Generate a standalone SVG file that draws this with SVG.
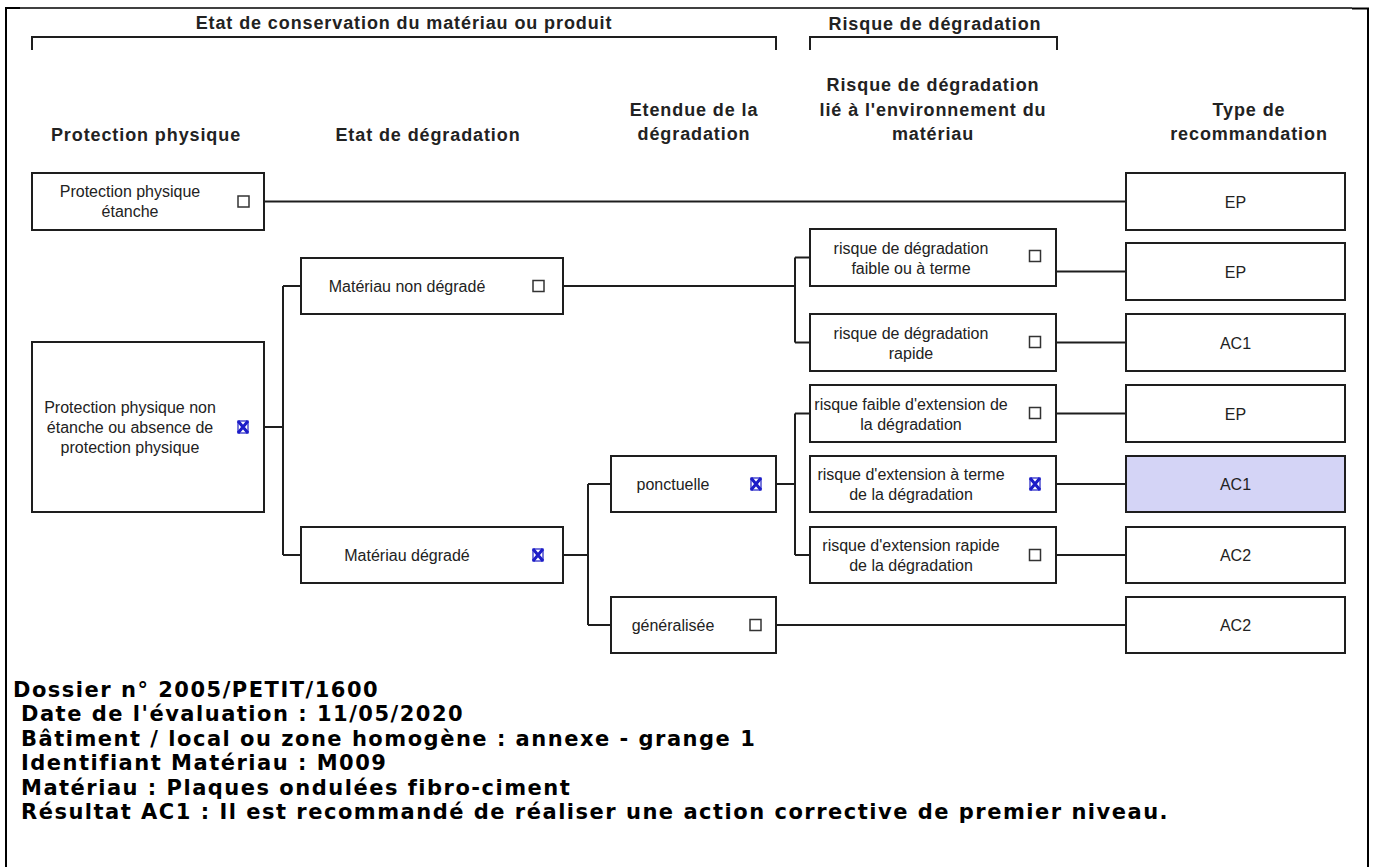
<svg xmlns="http://www.w3.org/2000/svg" xmlns:xlink="http://www.w3.org/1999/xlink" width="1375" height="867" viewBox="0 0 1375 867">
<style>
.box{fill:#fff;stroke:#1e1e1e;stroke-width:2}
.hl{fill:#d4d4f6}
.conn{fill:none;stroke:#1e1e1e;stroke-width:2}
.t{font-family:"Liberation Sans",Arial,sans-serif;font-size:16px;fill:#222;text-anchor:middle}
.h{font-family:"Liberation Sans",Arial,sans-serif;font-size:18px;font-weight:bold;letter-spacing:0.9px;fill:#222;text-anchor:middle}
.info{font-family:"DejaVu Sans",Verdana,sans-serif;font-size:21px;font-weight:bold;letter-spacing:1.5px;fill:#000}
.cb{fill:#fff;stroke:#333;stroke-width:1.5}
.xm{fill:none;stroke:#1c1cc8;stroke-width:3}
.xs{fill:none;stroke:#3030c8;stroke-width:1.3}
.frame{fill:none;stroke:#000;stroke-width:2}
</style>
<defs>
<rect id="cb" class="cb" x="-5.5" y="-5.5" width="11" height="11"/>
<g id="xm">
<rect class="xs" x="-5" y="-6" width="10" height="12"/>
<path class="xm" d="M-5,-6 L5,6 M5,-6 L-5,6"/>
</g>
</defs>
<rect width="1375" height="867" fill="#fff"/>
<g id="frame">
<path class="frame" d="M6,867 V8 H20"/>
<path d="M20,8 H1352" stroke="#000" stroke-width="1.3" fill="none"/>
<path class="frame" d="M1352,8.5 H1368 V867"/>
</g>
<g id="headers">
<text class="h" x="404" y="29">Etat de conservation du matériau ou produit</text>
<path class="conn" d="M32,50 V37 H776 V50"/>
<text class="h" x="935" y="30">Risque de dégradation</text>
<path class="conn" d="M810,50 V37 H1057 V50"/>
<text class="h" x="146" y="141">Protection physique</text>
<text class="h" x="428" y="141">Etat de dégradation</text>
<text class="h" x="694" y="115.5">Etendue de la</text>
<text class="h" x="694" y="140">dégradation</text>
<text class="h" x="933" y="91">Risque de dégradation</text>
<text class="h" x="933" y="115.5">lié à l'environnement du</text>
<text class="h" x="933" y="140">matériau</text>
<text class="h" x="1249" y="115.5">Type de</text>
<text class="h" x="1249" y="140">recommandation</text>
</g>
<g id="connectors">
<path class="conn" d="M264,201.5 H1126"/>
<path class="conn" d="M264,427 H283 M283,286 V555 M283,286 H301 M283,555 H301"/>
<path class="conn" d="M563,286 H795 M795,257.5 V342.5 M795,257.5 H810 M795,342.5 H810"/>
<path class="conn" d="M1056,271.5 H1126 M1056,342.5 H1126"/>
<path class="conn" d="M563,555 H588 M588,484 V625 M588,484 H611 M588,625 H611"/>
<path class="conn" d="M776,484 H795 M795,413.5 V555 M795,413.5 H810 M795,555 H810"/>
<path class="conn" d="M1056,413.5 H1126 M1056,484 H1126 M1056,555 H1126"/>
<path class="conn" d="M776,625 H1126"/>
</g>
<g id="n_protection_etanche">
<rect class="box" x="32" y="173" width="232" height="57"/>
<text class="t" x="130" y="197">Protection physique</text>
<text class="t" x="130" y="217">étanche</text>
<use xlink:href="#cb" x="243.5" y="201.5"/>
</g>
<g id="n_protection_non_etanche">
<rect class="box" x="32" y="342" width="232" height="170"/>
<text class="t" x="130" y="413">Protection physique non</text>
<text class="t" x="130" y="433">étanche ou absence de</text>
<text class="t" x="130" y="453">protection physique</text>
<use xlink:href="#xm" x="243" y="427"/>
</g>
<g id="n_materiau_non_degrade">
<rect class="box" x="301" y="258" width="262" height="56"/>
<text class="t" x="407" y="292">Matériau non dégradé</text>
<use xlink:href="#cb" x="538.5" y="286"/>
</g>
<g id="n_materiau_degrade">
<rect class="box" x="301" y="527" width="262" height="56"/>
<text class="t" x="407" y="561">Matériau dégradé</text>
<use xlink:href="#xm" x="538" y="555"/>
</g>
<g id="n_ponctuelle">
<rect class="box" x="611" y="456" width="165" height="56"/>
<text class="t" x="673" y="490">ponctuelle</text>
<use xlink:href="#xm" x="756" y="484"/>
</g>
<g id="n_generalisee">
<rect class="box" x="611" y="597" width="165" height="56"/>
<text class="t" x="673" y="631">généralisée</text>
<use xlink:href="#cb" x="755.5" y="625"/>
</g>
<g id="r_faible_terme">
<rect class="box" x="810" y="229" width="246" height="57"/>
<text class="t" x="911" y="253.5">risque de dégradation</text>
<text class="t" x="911" y="273.5">faible ou à terme</text>
<use xlink:href="#cb" x="1035" y="256"/>
</g>
<g id="r_rapide">
<rect class="box" x="810" y="314" width="246" height="57"/>
<text class="t" x="911" y="338.5">risque de dégradation</text>
<text class="t" x="911" y="358.5">rapide</text>
<use xlink:href="#cb" x="1035" y="342"/>
</g>
<g id="r_ext_faible">
<rect class="box" x="810" y="385" width="246" height="57"/>
<text class="t" x="911" y="409.5">risque faible d'extension de</text>
<text class="t" x="911" y="429.5">la dégradation</text>
<use xlink:href="#cb" x="1035" y="413"/>
</g>
<g id="r_ext_terme">
<rect class="box" x="810" y="456" width="246" height="56"/>
<text class="t" x="911" y="480">risque d'extension à terme</text>
<text class="t" x="911" y="500">de la dégradation</text>
<use xlink:href="#xm" x="1035" y="484"/>
</g>
<g id="r_ext_rapide">
<rect class="box" x="810" y="527" width="246" height="56"/>
<text class="t" x="911" y="551">risque d'extension rapide</text>
<text class="t" x="911" y="571">de la dégradation</text>
<use xlink:href="#cb" x="1035" y="555"/>
</g>
<g id="t1"><rect class="box" x="1126" y="173" width="219" height="57"/><text class="t" x="1235.5" y="207.5">EP</text></g>
<g id="t2"><rect class="box" x="1126" y="243" width="219" height="57"/><text class="t" x="1235.5" y="277.5">EP</text></g>
<g id="t3"><rect class="box" x="1126" y="314" width="219" height="57"/><text class="t" x="1235.5" y="348.5">AC1</text></g>
<g id="t4"><rect class="box" x="1126" y="385" width="219" height="57"/><text class="t" x="1235.5" y="419.5">EP</text></g>
<g id="t5"><rect class="box hl" x="1126" y="456" width="219" height="56"/><text class="t" x="1235.5" y="490">AC1</text></g>
<g id="t6"><rect class="box" x="1126" y="527" width="219" height="56"/><text class="t" x="1235.5" y="561">AC2</text></g>
<g id="t7"><rect class="box" x="1126" y="597" width="219" height="56"/><text class="t" x="1235.5" y="631">AC2</text></g>
<g id="info">
<text class="info" x="13" y="696.5">Dossier n° 2005/PETIT/1600</text>
<text class="info" x="21" y="721">Date de l'évaluation : 11/05/2020</text>
<text class="info" x="21" y="745.5">Bâtiment / local ou zone homogène : annexe - grange 1</text>
<text class="info" x="21" y="770">Identifiant Matériau : M009</text>
<text class="info" x="21" y="794.5">Matériau : Plaques ondulées fibro-ciment</text>
<text class="info" x="21" y="819">Résultat AC1 : Il est recommandé de réaliser une action corrective de premier niveau.</text>
</g>
</svg>
